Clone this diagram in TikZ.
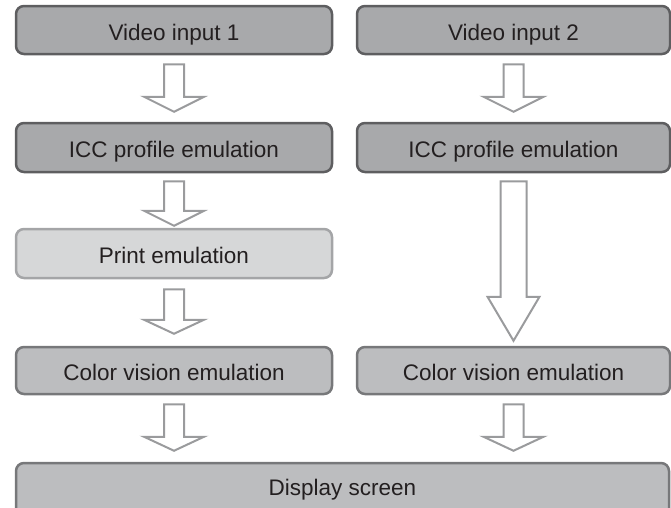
\documentclass[tikz,border=0pt]{standalone}
\usepackage{fontspec}
\setmainfont{Liberation Sans}
\usetikzlibrary{calc}
\definecolor{darkfill}{HTML}{A8A9AB}
\definecolor{darkline}{HTML}{5E5E60}
\definecolor{lightfill}{HTML}{D6D7D8}
\definecolor{lightline}{HTML}{A4A5A7}
\definecolor{midfill}{HTML}{BCBDBF}
\definecolor{midline}{HTML}{77787A}
\definecolor{arrowline}{HTML}{9A9B9D}
\definecolor{txt}{HTML}{231F20}
\tikzset{
  labeltext/.style={text=txt, font=\fontsize{22.5}{27}\selectfont, inner sep=0pt,
    text height=20pt, text depth=0pt},
  box/.style={labeltext, rectangle, rounded corners=8pt, line width=2.5pt},
  darkbox/.style={box, fill=darkfill, draw=darkline},
  lightbox/.style={box, fill=lightfill, draw=lightline},
  midbox/.style={box, fill=midfill, draw=midline},
  blockarrow/.style={draw=arrowline, fill=white, line width=2pt, line join=miter}
}
\newcommand\barrow[7]{%
  \draw[blockarrow] let \p1=(#1.south), \p2=(#2.north) in
   ({\x1-#5},{\y1-#3}) -- ({\x1+#5},{\y1-#3}) -- ({\x1+#5},{\y2+#4+#7})
   -- ({\x1+#6},{\y2+#4+#7}) -- (\x1,{\y2+#4}) -- ({\x1-#6},{\y2+#4+#7})
   -- ({\x1-#5},{\y2+#4+#7}) -- cycle;}
\begin{document}
\begin{tikzpicture}[x=1pt,y=-1pt]
\useasboundingbox (0,0) rectangle (671,507);
\clip (0,0) rectangle (671,507);
\node[darkbox, minimum width=316pt, minimum height=48pt] (v1) at (174,30) {Video input 1};
\node[darkbox, minimum width=313pt, minimum height=48pt] (v2) at (513.5,30) {Video input 2};
\node[darkbox, minimum width=316pt, minimum height=49pt] (icc1) at (174,147.5) {ICC profile emulation};
\node[darkbox, minimum width=313pt, minimum height=49pt] (icc2) at (513.5,147.5) {ICC profile emulation};
\node[lightbox, minimum width=316pt, minimum height=49pt] (pe) at (174,253.5) {Print emulation};
\node[midbox, minimum width=316pt, minimum height=47pt] (cv1) at (174,370.5) {Color vision emulation};
\node[midbox, minimum width=313pt, minimum height=47pt] (cv2) at (513.5,370.5) {Color vision emulation};
\node[midbox, minimum width=653pt, minimum height=60pt] (ds) at (342.5,493) {};
\node[labeltext] (dst) at (342.5,485) {Display screen};
\barrow{v1}{icc1}{9pt}{10pt}{10pt}{30pt}{15pt}
\barrow{v2}{icc2}{9pt}{10pt}{10pt}{30pt}{15pt}
\barrow{icc1}{pe}{8pt}{2pt}{10pt}{30pt}{15pt}
\barrow{pe}{cv1}{10pt}{12pt}{10pt}{30pt}{14pt}
\barrow{cv1}{ds}{9pt}{11pt}{10pt}{30pt}{14pt}
\barrow{cv2}{ds}{9pt}{11pt}{10pt}{30pt}{14pt}
\barrow{icc2}{cv2}{8pt}{5pt}{13pt}{26pt}{44pt}
\end{tikzpicture}
\end{document}
